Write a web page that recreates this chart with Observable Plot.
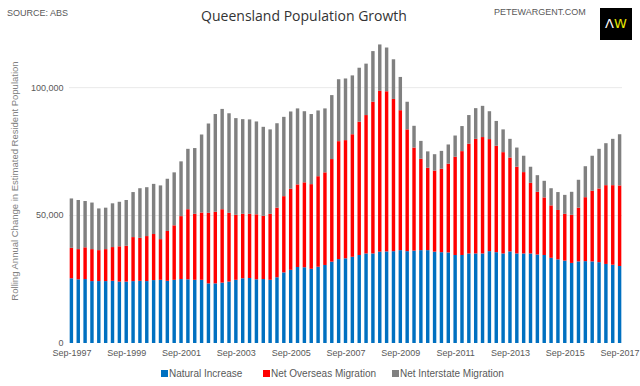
<!DOCTYPE html>
<html>
<head>
<meta charset="utf-8">
<script src="https://cdn.jsdelivr.net/npm/d3@7"></script>
<script src="https://cdn.jsdelivr.net/npm/@observablehq/plot@0.6"></script>
<style>
  html, body { margin: 0; padding: 0; background: #fff; }
  #wrap { position: relative; width: 640px; height: 386px; overflow: hidden; font-family: "Liberation Sans", Arial, sans-serif; }
  #wrap svg.plot { position: absolute; left: 0; top: 0; }
  .hdr { position: absolute; white-space: nowrap; }
  #source { left: 7px; top: 8px; font-size: 9px; color: #595959; }
  #site { left: 494px; top: 7px; font-size: 9px; color: #595959; }
  #title { left: 0; width: 608px; text-align: center; top: 6px; font-family: "Open Sans", sans-serif; font-size: 14px; color: #333; }
  #logo { left: 600px; top: 8px; width: 32px; height: 32px; background: #000; font-family: "DejaVu Sans", sans-serif; font-size: 13px; line-height: 32px; text-align: center; }
  #logo .a { color: #fff; }
  #logo .w { color: #e6e600; }
  .leg { position: absolute; top: 368px; font-size: 10px; color: #595959; white-space: nowrap; line-height: 12px; }
  .leg i { display: inline-block; width: 7px; height: 7px; margin-right: 1px; vertical-align: 0px; }
</style>
</head>
<body>
<div id="wrap">
  <div class="hdr" id="source">SOURCE: ABS</div>
  <div class="hdr" id="title">Queensland Population Growth</div>
  <div class="hdr" id="site">PETEWARGENT.COM</div>
  <div class="hdr" id="logo"><span class="a">Λ</span><span class="w">W</span></div>
</div>
<script>
// Quarterly categories Sep-1997 .. Sep-2017 (81 quarters)
const months = ["Sep", "Dec", "Mar", "Jun"];
const categories = [];
for (let i = 0; i < 81; i++) {
  categories.push(months[i % 4] + "-" + (1997 + Math.floor((i + 2) / 4)));
}
const tickLabels = ["Sep-1997","Sep-1999","Sep-2001","Sep-2003","Sep-2005","Sep-2007","Sep-2009","Sep-2011","Sep-2013","Sep-2015","Sep-2017"];
const seriesNames = ["Natural Increase", "Net Overseas Migration", "Net Interstate Migration"];
const seriesColors = ["#0070c0", "#ff0000", "#808080"];

const naturalIncrease = [
  25300,24900,25000,24200,24200,24200,24300,24000,24000,24200,24300,24200,24600,24700,24300,24700,25000,24900,24700,24700,
  23300,23300,23600,24000,24700,25300,25400,24900,25000,24700,25700,27600,28600,29700,29600,29000,29800,30500,31800,32800,
  33100,33700,34400,35000,35000,35700,35800,35900,36300,35900,36100,36300,36300,35700,35500,35400,34400,34400,35000,35000,
  35000,35900,35500,35000,35800,35000,35000,35000,34600,34400,33300,32700,32200,31300,31900,32000,31900,31600,30900,30600,30100
];
const netOverseas = [
  11900,11800,12400,12500,12100,12500,13200,13800,14000,17200,16800,17600,18000,15900,19500,21300,24600,27400,25800,26300,
  27600,28000,28700,26900,25400,25200,25100,25400,24700,25800,27200,29800,31700,32300,33200,33100,35400,36200,40100,46100,
  46200,47900,52100,54100,59300,62900,62600,59500,54700,47600,40300,35700,32200,31700,32600,34700,38400,40600,42900,44800,
  45500,43800,41600,39600,36700,33900,31800,27600,24500,22500,20500,19300,18300,18800,21000,25000,27600,28800,30800,31100,31500
];
const netInterstate = [
  19300,19200,18100,18200,16300,16200,17100,17400,17900,17600,19400,19100,19600,21000,20400,20700,21400,23600,25700,30500,
  34900,38200,39200,38900,37800,37000,36900,36300,34800,33000,33000,31000,30200,29700,27800,27400,25700,25000,25000,24200,
  24100,23000,21100,20100,19800,18100,17100,15500,13000,10800,8500,7000,6400,6400,7000,7500,8300,9800,11200,12000,
  12200,10900,9700,8900,7300,7500,6400,6300,6500,6500,6700,7000,7400,9000,10900,12100,13700,15500,16400,18100,20000
];
const yTicks = [0, 50000, 100000];

const rows = [];
categories.forEach((q, i) => {
  rows.push({quarter: q, series: seriesNames[0], value: naturalIncrease[i]});
  rows.push({quarter: q, series: seriesNames[1], value: netOverseas[i]});
  rows.push({quarter: q, series: seriesNames[2], value: netInterstate[i]});
});

const chart = Plot.plot({
  width: 640,
  height: 386,
  marginLeft: 69,
  marginRight: 18,
  marginTop: 36,
  marginBottom: 43,
  style: {fontFamily: "'Liberation Sans', Arial, sans-serif", fontSize: "9px", color: "#595959", background: "transparent"},
  x: {domain: categories, paddingInner: 0.5, paddingOuter: 0.1},
  y: {domain: [0, 120000]},
  color: {domain: seriesNames, range: seriesColors},
  marks: [
    Plot.ruleY([50000, 100000], {stroke: "#e9e9e9", strokeWidth: 1}),
    Plot.barY(rows, {x: "quarter", y: "value", fill: "series", order: seriesNames}),
    Plot.axisY({ticks: yTicks, tickSize: 0, tickPadding: 6, tickFormat: d3.format(","), label: null, fontSize: 9, fill: "#595959"}),
    Plot.axisX({ticks: tickLabels, tickSize: 0, tickPadding: 6, label: null, fontSize: 9, fill: "#595959"})
  ]
});
chart.classList.add("plot");
const svg = d3.select(chart);
svg.append("text")
  .attr("transform", "translate(15,181) rotate(-90)")
  .attr("text-anchor", "middle")
  .attr("dominant-baseline", "middle")
  .attr("fill", "#7f7f7f")
  .attr("font-size", 9.5)
  .attr("font-family", "'Liberation Sans', Arial, sans-serif")
  .text("Rolling Annual Change in Estimated Resident Population");

const wrap = document.getElementById("wrap");
wrap.insertBefore(chart, wrap.firstChild);

const legendX = [161, 263, 392];
seriesNames.forEach((name, i) => {
  const d = document.createElement("div");
  d.className = "leg";
  d.style.left = legendX[i] + "px";
  d.innerHTML = `<i style="background:${seriesColors[i]}"></i>${name}`;
  wrap.appendChild(d);
});
</script>
</body>
</html>
